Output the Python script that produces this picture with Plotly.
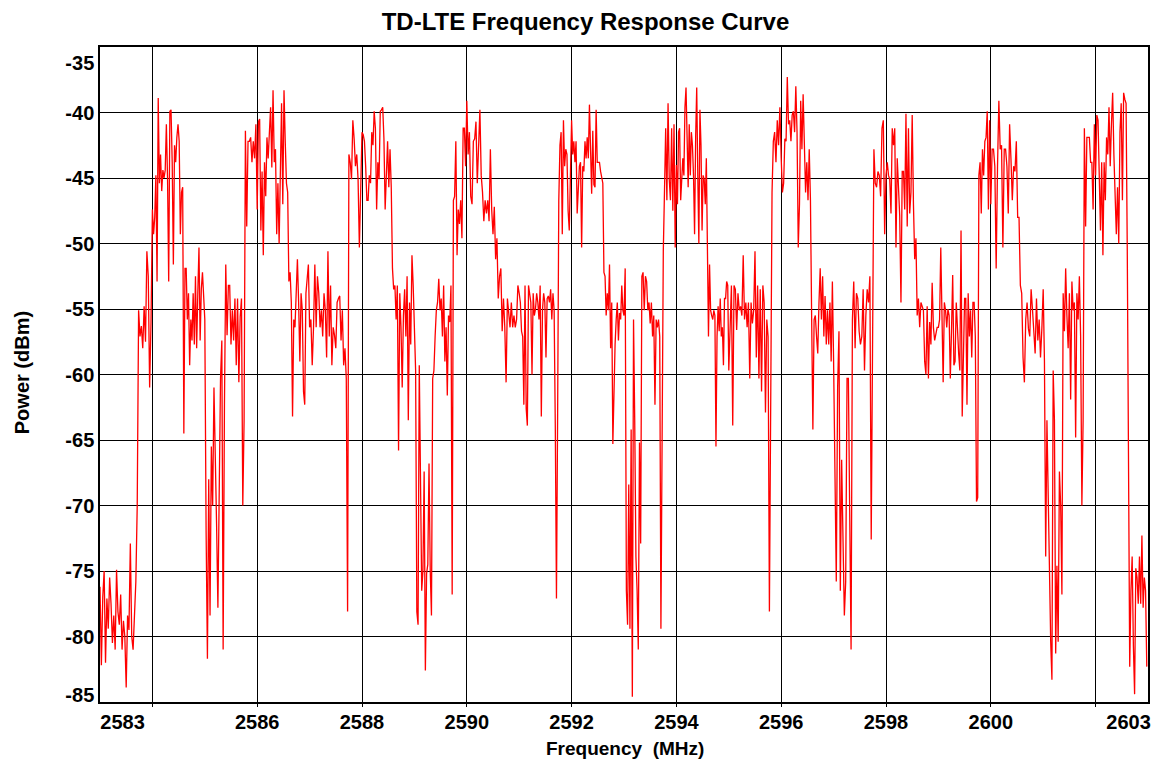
import numpy as np
import plotly.graph_objects as go

# Power readings (dBm), one list per 1 MHz span starting at the named frequency
seg_2583 = [-76.2, -82.2, -77.0, -75.0, -82.0, -77.1, -79.4, -75.5, -77.5, -80.5, -78.4, -81.0, -74.9, -78.1, -79.1, -76.8, -81.0, -78.8, -80.0, -83.9, -78.4, -79.5, -72.9, -80.0, -81.0, -78.0, -75.8, -70.0, -55.1, -57.1, -56.3, -58.0, -54.8, -57.5, -50.6, -52.5, -61.0, -56.0]
seg_2584 = [-47.4, -49.3, -48.0, -44.8, -52.9, -38.9, -45.4, -43.2, -46.0, -44.4, -45.0, -44.4, -40.9, -45.0, -52.9, -39.9, -39.8, -43.8, -51.6, -42.5, -43.8, -41.9, -40.9, -42.2, -49.3, -46.1, -45.7, -64.5, -51.9, -51.9, -55.8, -53.8, -59.3, -55.8, -57.4, -53.8, -57.7, -52.5, -58.0, -53.8, -50.3, -57.4, -53.5, -52.2, -53.8]
seg_2585 = [-55.8, -72.0, -81.7, -68.0, -78.4, -65.5, -70.0, -61.0, -65.5, -71.5, -77.8, -70.0, -60.3, -57.4, -81.0, -62.3, -51.6, -57.0, -53.2, -53.2, -57.7, -55.1, -57.4, -54.2, -59.3, -54.2, -60.6, -55.6, -54.2, -70.0, -63.5, -41.4, -48.7, -42.2, -42.2, -41.9, -43.8, -42.2, -43.5, -40.9]
seg_2586 = [-47.4, -40.7, -40.5, -49.0, -44.5, -50.9, -43.8, -46.4, -41.9, -43.5, -41.9, -39.6, -44.2, -38.3, -43.8, -42.8, -49.3, -45.4, -50.0, -44.2, -39.3, -47.0, -38.3, -42.2, -45.4, -46.1, -52.9, -52.2, -54.5, -63.2, -55.8, -56.4, -54.0, -51.2, -54.5, -59.0, -53.8, -55.1, -61.3, -62.3, -53.8, -52.5, -51.6]
seg_2587 = [-56.4, -55.8, -59.3, -56.4, -51.6, -56.4, -52.5, -53.8, -56.4, -55.1, -57.1, -53.8, -55.1, -58.7, -50.6, -57.1, -53.2, -59.3, -56.4, -57.0, -58.0, -54.5, -54.2, -54.0, -57.4, -55.1, -59.3, -58.0, -60.3, -78.1, -43.2, -43.8, -45.1, -40.6, -42.0, -44.1, -43.2, -45.1, -50.3, -44.5]
seg_2588 = [-41.5, -41.7, -42.2, -44.1, -46.7, -46.7, -44.8, -45.4, -41.5, -42.5, -39.9, -41.2, -47.4, -43.8, -45.1, -39.9, -39.8, -39.6, -42.0, -47.4, -43.8, -42.2, -45.7, -42.8, -45.7, -51.9, -53.5, -53.2, -55.8, -53.2, -65.8, -53.8, -56.4, -61.0, -55.5, -53.5, -57.1, -52.5, -63.5, -54.5, -57.7, -50.9, -53.2]
seg_2589 = [-57.1, -59.7, -78.1, -79.1, -59.3, -66.8, -76.5, -75.0, -67.4, -82.6, -75.2, -74.5, -66.8, -75.0, -78.4, -60.3, -59.7, -57.1, -55.1, -54.5, -52.7, -55.1, -54.2, -57.1, -53.2, -59.0, -56.4, -61.6, -55.5, -56.0, -53.2, -76.8, -46.7, -46.4, -42.2, -50.9, -47.4, -48.5, -46.7, -49.6, -41.2, -41.2, -44.1]
seg_2590 = [-39.1, -43.2, -41.5, -46.4, -47.0, -42.2, -42.0, -40.7, -45.4, -43.2, -39.8, -44.8, -46.1, -48.3, -46.7, -47.7, -46.7, -48.3, -42.8, -47.4, -49.3, -47.2, -51.2, -49.6, -54.2, -52.5, -51.9, -56.7, -54.2, -56.4, -60.6, -54.2, -55.1, -56.4, -54.5, -56.4, -55.5, -56.4, -55.8, -53.2]
seg_2591 = [-53.8, -54.5, -56.7, -57.1, -62.3, -53.2, -62.6, -63.9, -53.2, -53.8, -54.5, -60.0, -53.8, -55.5, -55.0, -53.8, -54.5, -55.8, -53.2, -63.2, -55.1, -53.8, -54.5, -58.7, -54.2, -54.0, -54.5, -53.5, -55.8, -53.8, -55.1, -64.0, -77.1, -63.0, -46.7, -42.5, -41.5, -49.3, -40.6, -44.1, -42.8, -43.2, -47.5, -49.0, -45.0]
seg_2592 = [-40.6, -43.2, -42.2, -43.8, -42.2, -47.7, -46.1, -44.1, -43.8, -50.3, -44.1, -44.5, -42.2, -43.5, -41.9, -43.5, -39.4, -42.8, -46.2, -41.4, -45.5, -45.7, -39.8, -43.8, -43.8, -43.8, -44.5, -45.0, -45.4, -52.2, -52.5, -55.5, -53.8, -55.1, -51.6, -58.0, -54.5, -65.3, -60.5, -57.7, -55.8, -54.5, -57.4, -55.3, -55.8, -53.2, -55.1]
seg_2593 = [-55.5, -51.9, -76.5, -79.1, -68.4, -79.4, -64.2, -84.6, -55.8, -63.5, -73.9, -76.5, -81.0, -65.2, -72.9, -52.5, -52.2, -55.1, -52.5, -52.9, -55.1, -54.5, -56.1, -54.5, -57.1, -55.5, -62.3, -55.8, -56.4, -55.8, -57.1, -79.4, -62.5, -50.6, -46.0, -41.2, -46.7, -39.3, -45.1, -46.7, -41.2, -47.5, -40.9, -50.3]
seg_2594 = [-44.0, -47.0, -41.5, -41.2, -46.7, -44.8, -43.5, -44.8, -39.6, -38.1, -42.8, -45.7, -40.9, -44.8, -41.5, -42.5, -44.8, -49.3, -41.9, -38.1, -44.8, -50.0, -39.8, -42.5, -49.0, -44.8, -45.1, -47.0, -43.5, -49.3, -57.1, -51.6, -55.1, -55.5, -55.8, -55.1, -55.5, -65.5, -57.1, -54.8, -56.7, -54.2, -57.1, -56.4, -59.3, -54.2, -54.2, -52.9, -53.2]
seg_2595 = [-59.7, -56.8, -53.2, -63.9, -53.2, -53.5, -56.6, -53.8, -55.1, -54.8, -55.5, -50.9, -55.8, -54.5, -56.4, -54.5, -60.3, -54.5, -56.1, -55.1, -50.6, -58.7, -53.2, -60.3, -53.5, -61.3, -53.2, -54.5, -62.9, -55.8, -57.1, -78.1, -60.3, -46.1, -42.2, -41.5, -43.8, -40.6, -42.5, -39.6]
seg_2596 = [-43.5, -46.1, -45.4, -42.0, -42.2, -37.3, -40.9, -40.6, -42.2, -40.2, -39.9, -41.5, -38.0, -41.5, -50.3, -47.0, -39.1, -42.8, -38.6, -41.5, -46.1, -43.8, -46.7, -42.8, -46.7, -55.8, -64.2, -55.8, -55.5, -57.1, -58.4, -54.5, -51.9, -55.8, -52.5, -57.1, -54.0, -57.7, -55.1, -57.7, -54.5, -59.0, -52.9]
seg_2597 = [-59.0, -68.0, -75.8, -61.0, -56.7, -76.5, -66.5, -72.6, -78.4, -75.8, -60.3, -60.3, -72.3, -81.0, -55.8, -52.9, -58.0, -53.8, -54.2, -56.7, -57.7, -57.1, -53.5, -59.7, -55.5, -53.5, -54.5, -52.5, -72.6, -53.0, -42.8, -45.4, -45.7, -44.5, -44.8, -46.4, -41.2, -40.6, -49.3]
seg_2598 = [-44.8, -43.8, -44.8, -45.1, -47.7, -41.2, -42.5, -41.2, -50.3, -43.5, -45.7, -47.9, -54.5, -44.5, -44.5, -47.4, -40.1, -48.7, -41.2, -47.7, -46.1, -40.2, -47.0, -51.2, -49.6, -55.5, -54.2, -56.4, -54.5, -54.8, -55.1, -59.0, -60.0, -54.8, -60.3, -56.0, -57.7, -53.0, -56.4, -57.4, -56.7, -56.4]
seg_2599 = [-56.4, -55.8, -50.3, -57.1, -60.6, -54.5, -55.1, -56.4, -55.0, -55.5, -60.3, -56.7, -52.4, -59.3, -59.0, -54.5, -57.1, -58.4, -59.7, -49.0, -63.2, -57.1, -54.2, -54.2, -62.3, -53.8, -57.1, -55.1, -58.7, -54.5, -54.5, -57.1, -69.7, -69.4, -44.8, -43.8, -47.7, -42.8, -44.8, -42.2, -41.9, -39.9, -47.4, -40.6]
seg_2600 = [-47.0, -42.8, -42.8, -44.1, -51.9, -44.1, -39.1, -42.8, -42.5, -50.3, -42.8, -42.8, -44.1, -47.7, -40.9, -43.5, -46.7, -44.1, -44.5, -42.2, -48.0, -48.0, -53.2, -53.8, -58.7, -60.6, -55.8, -54.5, -56.5, -57.1, -53.5, -55.0, -57.1, -58.4, -54.2, -57.4, -55.8, -58.7, -56.5]
seg_2601 = [-53.5, -59.0, -73.9, -63.5, -68.6, -76.5, -80.4, -83.3, -59.7, -63.5, -81.3, -74.6, -80.4, -67.4, -70.0, -76.8, -53.8, -56.7, -51.9, -55.5, -58.0, -53.8, -61.9, -52.9, -55.1, -54.5, -64.8, -53.8, -55.8, -52.5, -57.1, -70.0, -63.5, -41.2, -48.7, -41.9, -41.9, -41.9, -43.8, -43.8, -47.4, -40.9]
seg_2602 = [-44.8, -40.2, -40.6, -44.5, -49.0, -43.8, -50.9, -43.8, -46.7, -41.9, -43.2, -39.6, -44.1, -40.9, -38.5, -43.2, -45.7, -49.3, -45.7, -50.0, -41.5, -39.3, -46.7, -38.5, -39.0, -39.3, -50.6, -66.0, -82.3, -76.5, -73.9, -80.7, -84.4, -74.8, -75.5, -77.5, -73.9, -77.5, -72.3, -77.8, -75.5, -76.5, -82.3]

segment_starts = list(range(2583, 2603))
segments = [seg_2583, seg_2584, seg_2585, seg_2586, seg_2587, seg_2588, seg_2589,
            seg_2590, seg_2591, seg_2592, seg_2593, seg_2594, seg_2595, seg_2596,
            seg_2597, seg_2598, seg_2599, seg_2600, seg_2601, seg_2602]

# Axis labels and gridlines
x_grid = [2584, 2586, 2588, 2590, 2592, 2594, 2596, 2598, 2600, 2602]
x_label_pos = [2583.43, 2586, 2588, 2590, 2592, 2594, 2596, 2598, 2600, 2602.63]
x_labels = ["2583", "2586", "2588", "2590", "2592", "2594", "2596", "2598", "2600", "2603"]
y_grid = [-80, -75, -70, -65, -60, -55, -50, -45, -40]
y_label_pos = [-84.47, -80, -75, -70, -65, -60, -55, -50, -45, -40, -36.22]
y_labels = ["-85", "-80", "-75", "-70", "-65", "-60", "-55", "-50", "-45", "-40", "-35"]

freq, power = [], []
for start, seg in zip(segment_starts, segments):
    freq.extend(np.linspace(start, start + 1, len(seg), endpoint=False))
    power.extend(seg)

FONT = "Liberation Sans, Arial, sans-serif"

# The page body has an 8px default margin, so the figure is sized to fit inside it.
W, H = 1155, 759

fig = go.Figure()
fig.add_trace(go.Scatter(x=freq, y=power, mode="lines",
                         line=dict(color="#ff0000", width=1.3),
                         hoverinfo="x+y", showlegend=False))

fig.update_layout(
    width=W, height=H,
    margin=dict(l=92, r=15, t=39, b=65),
    paper_bgcolor="white", plot_bgcolor="white",
    title=dict(text="TD-LTE Frequency Response Curve", x=0.5, xanchor="center",
               y=1 - 14 / H, yanchor="middle", yref="container",
               font=dict(family=FONT, size=24, color="black", weight="bold")),
    font=dict(family=FONT, color="black"),
    xaxis=dict(range=[2583, 2603], tickmode="array", tickvals=x_label_pos, ticktext=x_labels,
               showgrid=False, zeroline=False, ticks="", ticklabelstandoff=1,
               showline=True, mirror=True, linecolor="black", linewidth=1.5,
               tickfont=dict(family=FONT, size=20, color="black", weight="bold"),
               minor=dict(tickmode="array", tickvals=x_grid, showgrid=True, gridcolor="black",
                          gridwidth=1.2, ticks="outside", ticklen=3, tickcolor="black")),
    yaxis=dict(range=[-85, -35], tickmode="array", tickvals=y_label_pos, ticktext=y_labels,
               showgrid=False, zeroline=False, ticks="", ticklabelstandoff=0,
               showline=True, mirror=True, linecolor="black", linewidth=1.5,
               tickfont=dict(family=FONT, size=20, color="black", weight="bold"),
               minor=dict(tickmode="array", tickvals=y_grid, showgrid=True, gridcolor="black",
                          gridwidth=1.2, ticks="")),
    annotations=[
        dict(text="Frequency  (MHz)", xref="paper", yref="paper", x=0.5005, y=-0.0715,
             xanchor="center", yanchor="middle", showarrow=False,
             font=dict(family=FONT, size=19, color="black", weight="bold")),
        dict(text="Power (dBm)", xref="paper", yref="paper", x=-0.0744, y=0.502,
             xanchor="center", yanchor="middle", showarrow=False, textangle=-90,
             font=dict(family=FONT, size=20, color="black", weight="bold")),
    ],
)

fig.write_html("out.html")
